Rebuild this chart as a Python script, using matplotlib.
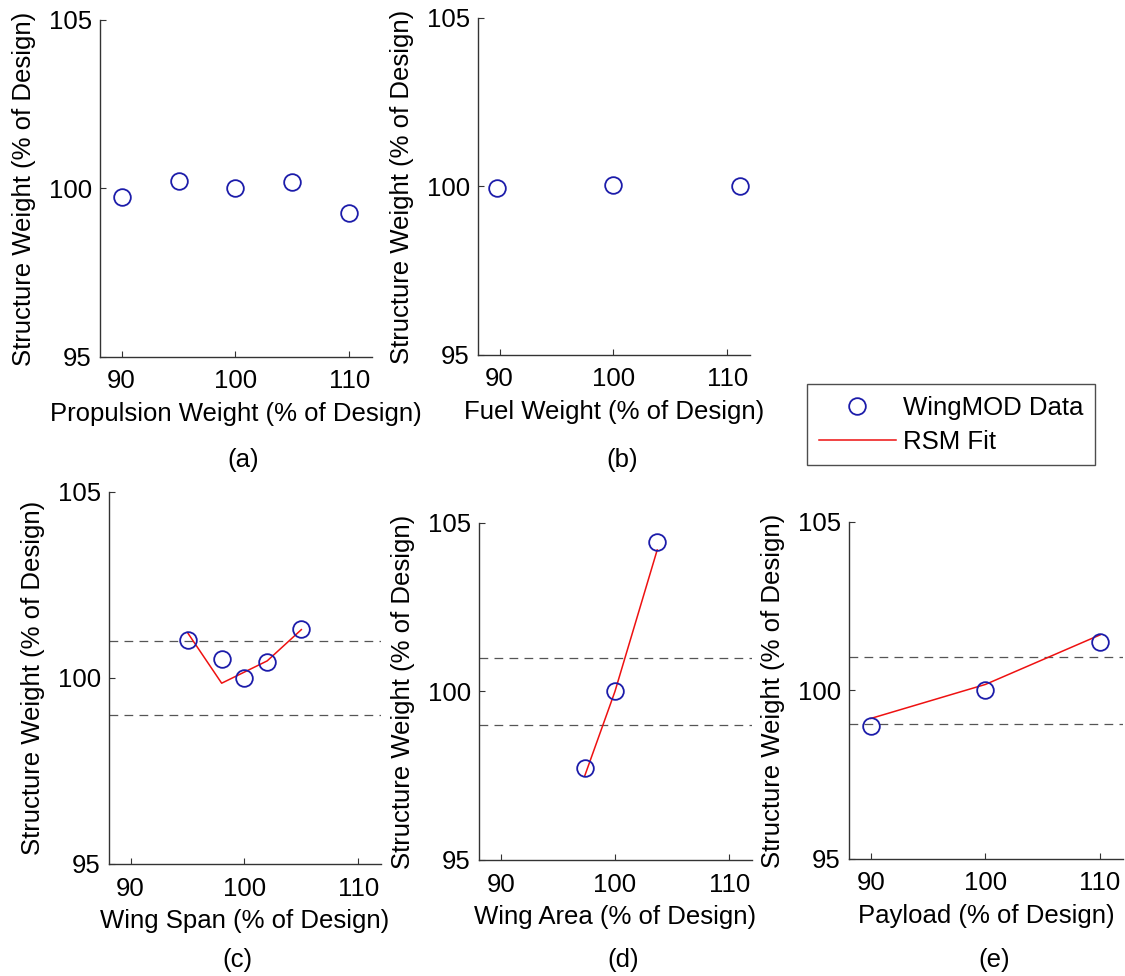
import matplotlib
matplotlib.use("Agg")
import matplotlib.pyplot as plt
from matplotlib.lines import Line2D

plt.rcParams['font.family'] = ['Liberation Sans', 'DejaVu Sans']

# ---- data ----
prop_x = [90, 95, 100, 105, 110]
prop_y = [99.75, 100.23, 100.0, 100.2, 99.28]

fuel_x = [89.8, 100, 111.1]
fuel_y = [99.95, 100.05, 100.0]

span_x = [95, 98, 100, 102, 105]
span_y = [101.03, 100.51, 100.0, 100.42, 101.31]
span_fit = [101.22, 99.86, 100.16, 100.46, 101.30]

area_x = [97.37, 100, 103.7]
area_y = [97.74, 100.0, 104.43]
area_fit = [97.51, 100.0, 104.2]

pay_x = [90, 100, 110]
pay_y = [98.94, 100.0, 101.45]
pay_fit = [99.17, 100.18, 101.65]

band = [99, 101]
xticks = [90, 100, 110]
yticks = [95, 100, 105]
xlabels = ["Propulsion Weight (% of Design)", "Fuel Weight (% of Design)",
           "Wing Span (% of Design)", "Wing Area (% of Design)",
           "Payload (% of Design)"]
letters = ["(a)", "(b)", "(c)", "(d)", "(e)"]
ylabel = "Structure Weight (% of Design)"

W, H = 1125, 976
fig = plt.figure(figsize=(W / 100, H / 100), dpi=100)

def rect(l, t, r, b):
    return [l / W, 1 - b / H, (r - l) / W, (b - t) / H]

rects = [rect(100, 20, 372, 357), rect(478, 18, 750, 355),
         rect(109, 492, 381, 864), rect(479, 523, 752, 860),
         rect(849, 522, 1123, 859)]
letter_pos = [(243, 460), (622, 460), (237, 960), (623, 960), (994, 960)]

marker_color = '#1c1caa'
fs = 18.5

datasets = [
    (prop_x, prop_y, None, False),
    (fuel_x, fuel_y, None, False),
    (span_x, span_y, span_fit, True),
    (area_x, area_y, area_fit, True),
    (pay_x, pay_y, pay_fit, True),
]

for i, (r, (x, y, fit, showband)) in enumerate(zip(rects, datasets)):
    ax = fig.add_axes(r)
    if showband:
        for b in band:
            ax.axhline(b, color='#555555', lw=0.9, ls=(0, (7, 5)))
    if fit is not None:
        ax.plot(x, fit, color='#ee1111', lw=1.1, zorder=2)
    ax.plot(x, y, ls='none', marker='o', ms=12, mfc='none', mec=marker_color,
            mew=1.3, zorder=3)
    ax.set_xlim(88.1, 112)
    ax.set_ylim(95, 105)
    ax.set_xticks(xticks)
    ax.set_yticks(yticks)
    ax.spines['top'].set_visible(False)
    ax.spines['right'].set_visible(False)
    for s in ('left', 'bottom'):
        ax.spines[s].set_color('#333333')
        ax.spines[s].set_linewidth(1.0)
    ax.tick_params(direction='in', length=4, width=0.8, colors='#333333',
                   labelcolor='black', labelsize=fs)
    ax.tick_params(axis='x', pad=9)
    ax.tick_params(axis='y', pad=6)
    ax.set_xlabel(xlabels[i], fontsize=fs, labelpad=6)
    ax.set_ylabel(ylabel, fontsize=fs, labelpad=9)
    ax.patch.set_alpha(0)
    lx, ly = letter_pos[i]
    fig.text(lx / W, 1 - ly / H, letters[i], ha='center', va='center',
             fontsize=fs)

# legend
handles = [Line2D([], [], ls='none', marker='o', ms=12, mfc='none',
                  mec=marker_color, mew=1.3),
           Line2D([], [], color='#ee1111', lw=1.1)]
leg = fig.legend(handles, ["WingMOD Data", "RSM Fit"],
                 loc='upper left', bbox_to_anchor=(807 / W, 1 - 384 / H),
                 fontsize=fs, frameon=True, fancybox=False, edgecolor='#222222',
                 handlelength=3.0, borderpad=0.45, labelspacing=0.4,
                 handletextpad=0.3, borderaxespad=0)
leg.get_frame().set_linewidth(1.0)

fig.savefig("out.png", dpi=100)
